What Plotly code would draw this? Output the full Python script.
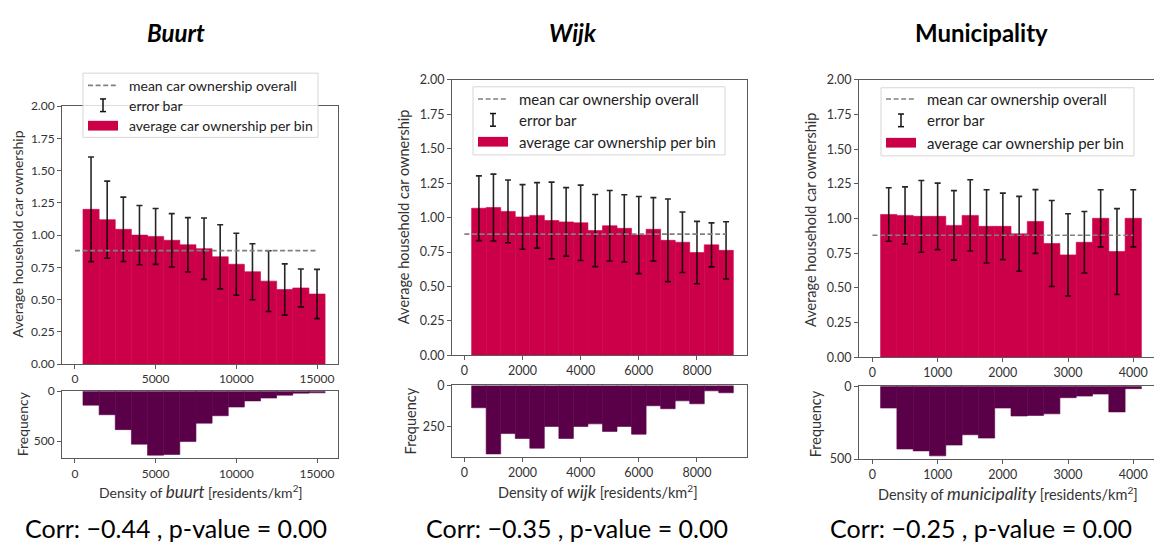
import plotly.graph_objects as go

W, H = 1154, 549

# ---------------- data ----------------
mean_car_ownership = 0.88

buurt_density = [1000, 2000, 3000, 4000, 5000, 6000, 7000, 8000, 9000, 10000,
                 11000, 12000, 13000, 14000, 15000]
buurt_bin_width = 1000
buurt_car = [1.20, 1.12, 1.045, 1.00, 0.99, 0.96, 0.925, 0.895, 0.832, 0.774,
             0.716, 0.643, 0.578, 0.59, 0.543]
buurt_err = [0.406, 0.299, 0.25, 0.23, 0.217, 0.207, 0.211, 0.238, 0.249, 0.24,
             0.217, 0.236, 0.199, 0.147, 0.191]
buurt_freq = [139, 235, 384, 529, 639, 632, 503, 319, 245, 158, 97, 68, 39, 19, 16]
buurt_xticks = [0, 5000, 10000, 15000]
buurt_freq_ticks = [0, 500]

wijk_density = [500, 1000, 1500, 2000, 2500, 3000, 3500, 4000, 4500, 5000,
                5500, 6000, 6500, 7000, 7500, 8000, 8500, 9000]
wijk_bin_width = 500
wijk_car = [1.068, 1.073, 1.045, 1.005, 1.016, 0.979, 0.969, 0.962, 0.906,
            0.941, 0.922, 0.873, 0.915, 0.835, 0.821, 0.746, 0.802, 0.762]
wijk_err = [0.235, 0.243, 0.228, 0.235, 0.238, 0.279, 0.249, 0.274, 0.262,
            0.256, 0.244, 0.28, 0.23, 0.3, 0.22, 0.227, 0.16, 0.208]
wijk_freq = [136, 417, 293, 323, 382, 250, 323, 250, 234, 280, 250, 297, 124,
             142, 94, 112, 33, 45]
wijk_xticks = [0, 2000, 4000, 6000, 8000]
wijk_freq_ticks = [0, 250]

muni_density = [250, 500, 750, 1000, 1250, 1500, 1750, 2000, 2250, 2500,
                2750, 3000, 3250, 3500, 3750, 4000]
muni_bin_width = 250
muni_car = [1.03, 1.023, 1.016, 1.016, 0.951, 1.023, 0.944, 0.944, 0.89,
            0.979, 0.82, 0.738, 0.829, 1.002, 0.762, 1.002]
muni_err = [0.193, 0.206, 0.259, 0.24, 0.251, 0.257, 0.264, 0.24, 0.27, 0.23,
            0.31, 0.297, 0.222, 0.206, 0.31, 0.206]
muni_freq = [149, 431, 444, 478, 404, 333, 356, 149, 204, 200, 189, 78, 67,
             53, 176, 16]
muni_xticks = [0, 1000, 2000, 3000, 4000]
muni_freq_ticks = [0, 500]

car_ticks = [0, 0.25, 0.5, 0.75, 1.0, 1.25, 1.5, 1.75, 2.0]

titles = ["Buurt", "Wijk", "Municipality"]
level_names = ["buurt", "wijk", "municipality"]
correlations = [-0.44, -0.35, -0.25]
p_values = [0.00, 0.00, 0.00]

# ---------------- style ----------------
RED = "#CC0048"
PURPLE = "#5A0048"
SPINE = "#5a5a5a"
TEXT = "#333333"
FONT = "Lato"


def px_x(x):
    return x / W


def px_y(y):
    return 1 - y / H


# pixel boxes: (left, right, top_of_main, bottom_of_main, top_of_hist, bottom_of_hist)
panels = [
    dict(density=buurt_density, width=buurt_bin_width, car=buurt_car, err=buurt_err,
         freq=buurt_freq, xticks=buurt_xticks, fticks=buurt_freq_ticks,
         box=(62, 338, 101, 366, 394, 463), xrange=[-800, 16300], tick_size=12,
         legend=(83, 67, 318, 133), leg_rows=(79.5, 100, 121), leg_font=14,
         label_size=14, ylab=(18, 233), flab=(22, 428), xlab=(201, 497),
         corr=(176, 535), title=(176, 25), right_spine=True),
    dict(density=wijk_density, width=wijk_bin_width, car=wijk_car, err=wijk_err,
         freq=wijk_freq, xticks=wijk_xticks, fticks=wijk_freq_ticks,
         box=(452, 747, 74, 357, 388, 462), xrange=[-425, 9720], tick_size=12.5,
         legend=(473, 81, 725, 151), leg_rows=(93.5, 115, 137.5), leg_font=15,
         label_size=14.5, ylab=(403, 215), flab=(410, 425), xlab=(598, 497),
         corr=(577, 535), title=(573, 25), right_spine=True),
    dict(density=muni_density, width=muni_bin_width, car=muni_car, err=muni_err,
         freq=muni_freq, xticks=muni_xticks, fticks=muni_freq_ticks,
         box=(859, 1154, 74, 359, 389, 464), xrange=[-206, 4318], tick_size=12.5,
         legend=(881, 82, 1134, 152), leg_rows=(93.5, 115.5, 138.5), leg_font=15,
         label_size=14.5, ylab=(810, 218), flab=(815, 428), xlab=(1008, 499),
         corr=(981, 535), title=(981, 25), right_spine=False),
]

fig = go.Figure()
layout = dict(width=W, height=H, margin=dict(l=0, r=0, t=0, b=0),
              paper_bgcolor="white", plot_bgcolor="white", showlegend=False,
              barmode="overlay", font=dict(family=FONT, color=TEXT))
shapes = []
annotations = []


def axis_common(tick_size):
    return dict(showgrid=False, zeroline=False, showline=True, linecolor=SPINE,
                linewidth=1, ticks="outside", ticklen=4, tickcolor=SPINE,
                tickwidth=1, tickfont=dict(family=FONT, size=tick_size, color=TEXT))


def label(x, y, text, size, color=TEXT, angle=0):
    annotations.append(dict(xref="paper", yref="paper", x=px_x(x), y=px_y(y),
                            xanchor="center", yanchor="middle", textangle=angle,
                            showarrow=False, text=text,
                            font=dict(family=FONT, size=size, color=color)))


for i, p in enumerate(panels):
    left, right, t1, b1, t2, b2 = p["box"]
    n_main = 2 * i + 1
    n_hist = 2 * i + 2
    xname_main = "x" if n_main == 1 else f"x{n_main}"
    yname_main = "y" if n_main == 1 else f"y{n_main}"
    xname_hist = f"x{n_hist}"
    yname_hist = f"y{n_hist}"

    # main bars with error bars
    fig.add_trace(go.Bar(
        x=p["density"], y=p["car"], width=p["width"], marker_color=RED,
        marker_line=dict(color=RED, width=0.6),
        error_y=dict(type="data", array=p["err"], color="rgba(0,0,0,0.85)",
                     thickness=1.6, width=3),
        xaxis=xname_main, yaxis=yname_main))
    # overall mean line
    fig.add_trace(go.Scatter(
        x=[0, max(p["density"])], y=[mean_car_ownership, mean_car_ownership],
        mode="lines", line=dict(color="#808080", width=1.6, dash="5px,2.6px"),
        xaxis=xname_main, yaxis=yname_main))
    # frequency histogram (hanging downward)
    fig.add_trace(go.Bar(
        x=p["density"], y=p["freq"], width=p["width"], marker_color=PURPLE,
        marker_line=dict(color=PURPLE, width=0.6),
        xaxis=xname_hist, yaxis=yname_hist))

    xdom = [px_x(left), px_x(right)]
    ax = axis_common(p["tick_size"])
    xt = dict(tickvals=p["xticks"], ticktext=[str(v) for v in p["xticks"]])
    key_main = "xaxis" if n_main == 1 else f"xaxis{n_main}"
    ykey_main = "yaxis" if n_main == 1 else f"yaxis{n_main}"
    layout[key_main] = dict(ax, **xt, domain=xdom, range=p["xrange"],
                            anchor=yname_main, mirror=True)
    layout[ykey_main] = dict(ax, domain=[px_y(b1), px_y(t1)], range=[0, 2],
                             tickvals=car_ticks, ticktext=[f"{v:.2f}" for v in car_ticks],
                             anchor=xname_main, mirror=p["right_spine"])
    fmax = max(p["freq"]) * 1.05
    layout[f"xaxis{n_hist}"] = dict(ax, **xt, domain=xdom, range=p["xrange"],
                                    anchor=yname_hist, mirror=True)
    layout[f"yaxis{n_hist}"] = dict(ax, domain=[px_y(b2), px_y(t2)], range=[fmax, 0],
                                    tickvals=p["fticks"],
                                    ticktext=[str(v) for v in p["fticks"]],
                                    anchor=xname_hist, mirror=p["right_spine"])

    # legend box
    lx0, ly0, lx1, ly1 = p["legend"]
    shapes.append(dict(type="rect", xref="paper", yref="paper", layer="above",
                       x0=px_x(lx0), x1=px_x(lx1), y0=px_y(ly1), y1=px_y(ly0),
                       fillcolor="rgba(255,255,255,0.8)",
                       line=dict(color="#d6d6d6", width=1)))
    hx0, hx1 = lx0 + 5, lx0 + 35
    hxc = (hx0 + hx1) / 2
    r0, r1, r2 = p["leg_rows"]
    shapes.append(dict(type="line", xref="paper", yref="paper", layer="above",
                       x0=px_x(hx0), x1=px_x(hx1), y0=px_y(r0), y1=px_y(r0),
                       line=dict(color="#808080", width=1.6, dash="5px,2.6px")))
    shapes.append(dict(type="line", xref="paper", yref="paper", layer="above",
                       x0=px_x(hxc), x1=px_x(hxc), y0=px_y(r1 - 6.5), y1=px_y(r1 + 6.5),
                       line=dict(color="#111", width=1.5)))
    for cy in (r1 - 6.5, r1 + 6.5):
        shapes.append(dict(type="line", xref="paper", yref="paper", layer="above",
                           x0=px_x(hxc - 3), x1=px_x(hxc + 3), y0=px_y(cy), y1=px_y(cy),
                           line=dict(color="#111", width=1.5)))
    shapes.append(dict(type="rect", xref="paper", yref="paper", layer="above",
                       x0=px_x(hx0), x1=px_x(hx1), y0=px_y(r2 + 5), y1=px_y(r2 - 5),
                       fillcolor=RED, line=dict(width=0)))
    for ry, txt in zip((r0, r1, r2), ("mean car ownership overall", "error bar",
                                      "average car ownership per bin")):
        annotations.append(dict(xref="paper", yref="paper", x=px_x(lx0 + 44),
                                y=px_y(ry), xanchor="left", yanchor="middle",
                                showarrow=False, text=txt,
                                font=dict(family=FONT, size=p["leg_font"], color="#222")))

    # axis labels, correlation line and panel title
    ls = p["label_size"]
    label(p["ylab"][0], p["ylab"][1], "Average household car ownership", ls, angle=-90)
    label(p["flab"][0], p["flab"][1], "Frequency", ls, angle=-90)
    label(p["xlab"][0], p["xlab"][1],
          f"Density of <span style='font-size:{ls + 3}px'><i>" + level_names[i]
          + "</i></span> [residents/km<sup>2</sup>]", ls)
    label(p["corr"][0], p["corr"][1],
          f"Corr: \u2212{abs(correlations[i]):.2f} , p-value = {p_values[i]:.2f}",
          25, color="black")
    title_text = f"<b><i>{titles[i]}</i></b>" if i < 2 else f"<b>{titles[i]}</b>"
    label(p["title"][0], p["title"][1], title_text, 24, color="black")

layout["shapes"] = shapes
layout["annotations"] = annotations
fig.update_layout(**layout)
fig.write_html("out.html")
